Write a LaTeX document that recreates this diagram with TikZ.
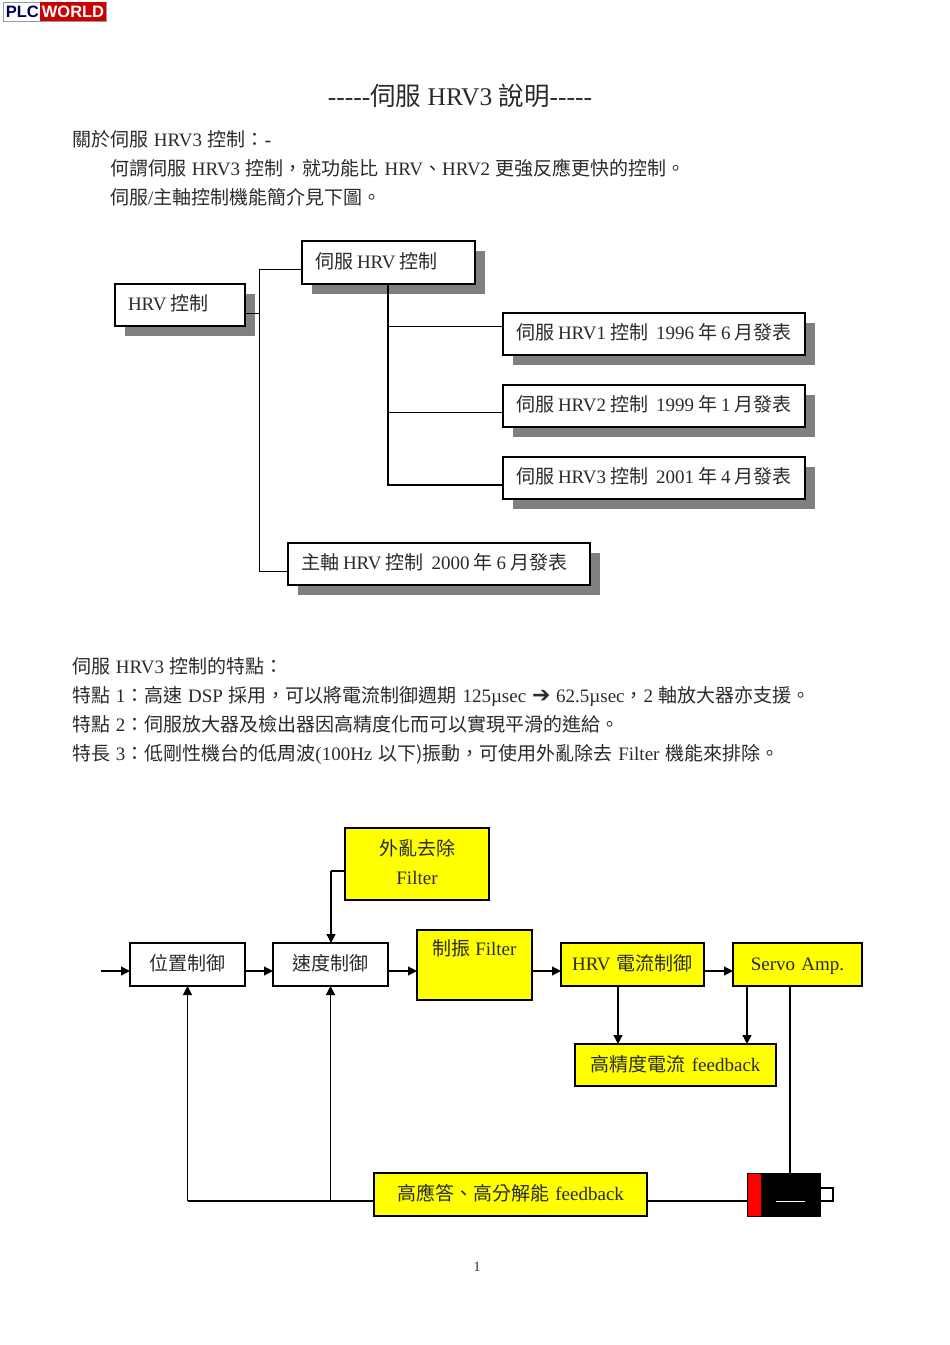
\documentclass[tikz,border=0pt]{standalone}
\usepackage{fontspec}
\setmainfont{Liberation Serif}
\newfontfamily\cjkf{Noto Sans CJK TC}
\newfontfamily\arrowf{DejaVu Sans}
\newfontfamily\logof{Liberation Sans}
\newcommand\C[1]{{\cjkf #1}}
\newcommand\bodytext[1]{\setlength{\spaceskip}{5.75pt}#1}
\newcommand\boxtext[1]{\setlength{\spaceskip}{4pt}#1}
\usetikzlibrary{arrows.meta,shadows}
\definecolor{ink}{HTML}{2A2A2A}
\definecolor{shade}{HTML}{808080}
\definecolor{ybox}{HTML}{FFFF00}
\tikzset{
  x=1pt,y=-1pt,
  body/.style={anchor=base west,inner sep=0pt,text=ink,font=\fontsize{19}{19}\selectfont},
  boxbase/.style={draw=black,line width=1.2pt,outer sep=0pt,anchor=north west,inner ysep=0pt,inner xsep=12pt,text=ink,font=\fontsize{19}{19}\selectfont,align=left},
  plain/.style={boxbase,fill=white,drop shadow={shadow xshift=10pt,shadow yshift=-10pt,fill=shade,opacity=1}},
  flat/.style={boxbase,fill=white},
  yel/.style={boxbase,fill=ybox},
  lab/.style={anchor=base,inner sep=0pt,text=ink,font=\fontsize{19}{19}\selectfont},
  thin wire/.style={draw=black,line width=1pt},
  wire/.style={draw=black,line width=1.2pt},
  heavy/.style={draw=black,line width=1.8pt},
  arr/.style={wire,-{Triangle[length=9pt,width=9pt]}},
}
\newcommand\bxL[7]{\node[#1,minimum width=#4pt,minimum height=#5pt,text width=#6pt] (#2) at #3 {\makebox[\linewidth][l]{\hspace*{1pt}\raisebox{0pt}[15.5pt][4.5pt]{\boxtext{#7}}}};}
\newcommand\bxC[7]{\node[#1,minimum width=#4pt,minimum height=#5pt,text width=#6pt] (#2) at #3 {\makebox[\linewidth][c]{\raisebox{0pt}[16pt][4pt]{#7}}};}
\begin{document}
\begin{tikzpicture}
\useasboundingbox (0,0) rectangle (950,1345);
% logo
\node[draw=black!40,line width=.5pt,fill=white,minimum width=103pt,minimum height=19pt,anchor=north west,inner sep=0pt,outer sep=0pt] (logo) at (3,2) {};
\node[fill=red!80!black,text=white,font=\logof\bfseries\fontsize{16.5}{17}\selectfont,minimum width=66pt,minimum height=19pt,anchor=north east,inner sep=0pt,outer sep=0pt] (world) at (logo.north east) {WORLD};
\node[text=blue!35!black,font=\logof\bfseries\fontsize{16.5}{17}\selectfont,anchor=east,inner sep=0pt] (plc) at ([xshift=-1pt]world.west) {PLC};
% texts
\node[body,anchor=base,font=\fontsize{25.5}{26}\selectfont] (title) at (460,105) {-{}-{}-{}-{}-\C{伺服} HRV3 \C{說明}-{}-{}-{}-{}-};
\node[body] (t1) at (72,146.5) {\bodytext{\C{關於伺服} HRV3 \C{控制：}\textbf{-}}};
\node[body] (t2) at (110,175.5) {\bodytext{\C{何謂伺服} HRV3 \C{控制，就功能比} HRV\C{、}HRV2 \C{更強反應更快的控制。}}};
\node[body] (t3) at (110,204.5) {\bodytext{\C{伺服}/\C{主軸控制機能簡介見下圖。}}};
\node[body] (t4) at (72,673.5) {\bodytext{\C{伺服} HRV3 \C{控制的特點：}}};
\node[body] (t5) at (72,702.5) {\bodytext{\C{特點} 1\C{：高速} DSP \C{採用，可以將電流制御週期} 125µsec {\arrowf\bfseries\fontsize{22}{22}\selectfont\symbol{"2794}} 62.5µsec\C{，}2 \C{軸放大器亦支援。}}};
\node[body] (t6) at (72,731.5) {\bodytext{\C{特點} 2\C{：伺服放大器及檢出器因高精度化而可以實現平滑的進給。}}};
\node[body] (t7) at (72,760.5) {\bodytext{\C{特長} 3\C{：低剛性機台的低周波}(100Hz \C{以下}\C{)振動，可使用外亂除去} Filter \C{機能來排除。}}};
\node[body,anchor=base,font=\fontsize{14}{14}\selectfont] (pg) at (477,1271) {1};
% top tree
\coordinate (j0) at (259,269); \coordinate (j1) at (259,313); \coordinate (j2) at (259,571);
\coordinate (k1) at (388,326); \coordinate (k2) at (388,412); \coordinate (k3) at (388,485);
\bxL{plain}{hrv}{(115,284)}{130}{42}{106}{HRV \C{控制}}
\bxL{plain}{srv}{(302,241)}{173}{43}{149}{\C{伺服} HRV \C{控制}}
\bxL{plain}{h1}{(503,313)}{302}{42}{278}{\C{伺服} HRV1 \C{控制}\hspace{8pt}1996 \C{年} 6 \C{月發表}}
\bxL{plain}{h2}{(503,385)}{302}{42}{278}{\C{伺服} HRV2 \C{控制}\hspace{8pt}1999 \C{年} 1 \C{月發表}}
\bxL{plain}{h3}{(503,457)}{302}{42}{278}{\C{伺服} HRV3 \C{控制}\hspace{8pt}2001 \C{年} 4 \C{月發表}}
\bxL{plain}{spd}{(288,543)}{302}{42}{278}{\C{主軸} HRV \C{控制}\hspace{8pt}2000 \C{年} 6 \C{月發表}}
\draw[thin wire] (hrv.east |- j1) -- (j1);
\draw[thin wire] (srv.west |- j0) -- (j0) -- (j2) -- (spd.west |- j2);
\draw[heavy] (srv.south -| k1) -- (k3) -- (h3.west |- k3);
\draw[thin wire] (k1) -- (h1.west |- k1);
\draw[thin wire] (k2) -- (h2.west |- k2);
% lower diagram
\node[yel,minimum width=144pt,minimum height=72pt] (dist) at (345,828) {};
\node[lab] (distA) at (417,855) {\C{外亂去除}};
\node[lab] (distB) at (417,884) {Filter};
\bxC{flat}{pos}{(130,943)}{115}{43}{91}{\C{位置制御}}
\bxC{flat}{vel}{(273,943)}{115}{43}{91}{\C{速度制御}}
\node[yel,minimum width=115pt,minimum height=70pt] (vib) at (417,930) {};
\node[lab] (vibT) at (474.5,955) {\C{制振} Filter};
\bxC{yel}{cur}{(561,943)}{143}{43}{119}{HRV \C{電流制御}}
\bxC{yel}{amp}{(733,943)}{129}{43}{105}{Servo Amp.}
\bxC{yel}{fb1}{(575,1044)}{201}{42}{177}{\C{高精度電流} feedback}
\bxC{yel}{fb2}{(374,1173)}{273}{43}{249}{\C{高應答、高分解能} feedback}
% motor
\node[draw=black,fill=white,line width=1.2pt,minimum width=14pt,minimum height=13pt,anchor=north west,inner sep=0pt,outer sep=0pt] (shaft) at (819,1188) {};
\node[draw=black,fill=black,minimum width=73pt,minimum height=43pt,anchor=north west,inner sep=0pt,outer sep=0pt] (motor) at (747,1173) {};
\node[fill=red,minimum width=13pt,minimum height=42pt,anchor=north west,inner sep=0pt,outer sep=0pt] (rotor) at (747.5,1173.5) {};
\coordinate (m1) at (776,1201); \coordinate (m2) at (805,1201);
\draw[white,line width=1pt] (m1) -- (m2);
% connectors
\coordinate (in) at (101,971);
\coordinate (yy) at (0,971);
\coordinate (fbY) at (0,1201);
\coordinate (d1) at (331,871);
\coordinate (a1) at (618,0); \coordinate (a2) at (747,0); \coordinate (a3) at (790,0);
\draw[arr] (in) -- (pos.west |- in);
\draw[arr] (pos.east |- yy) -- (vel.west |- yy);
\draw[arr] (vel.east |- yy) -- (vib.west |- yy);
\draw[arr] (vib.east |- yy) -- (cur.west |- yy);
\draw[arr] (cur.east |- yy) -- (amp.west |- yy);
\draw[wire] (dist.west |- d1) -- (d1);
\draw[arr] (d1) -- (vel.north -| d1);
\draw[arr] (a1 |- cur.south) -- (a1 |- fb1.north);
\draw[arr] (a2 |- amp.south) -- (a2 |- fb1.north);
\draw[heavy] (a3 |- amp.south) -- (a3 |- motor.north);
\draw[wire] (fb2.east |- fbY) -- (motor.west |- fbY);
\draw[wire] (fb2.west |- fbY) -- (pos.south |- fbY);
\draw[arr] (pos.south |- fbY) -- (pos.south);
\draw[arr] (vel.south |- fbY) -- (vel.south);
\end{tikzpicture}
\end{document}
